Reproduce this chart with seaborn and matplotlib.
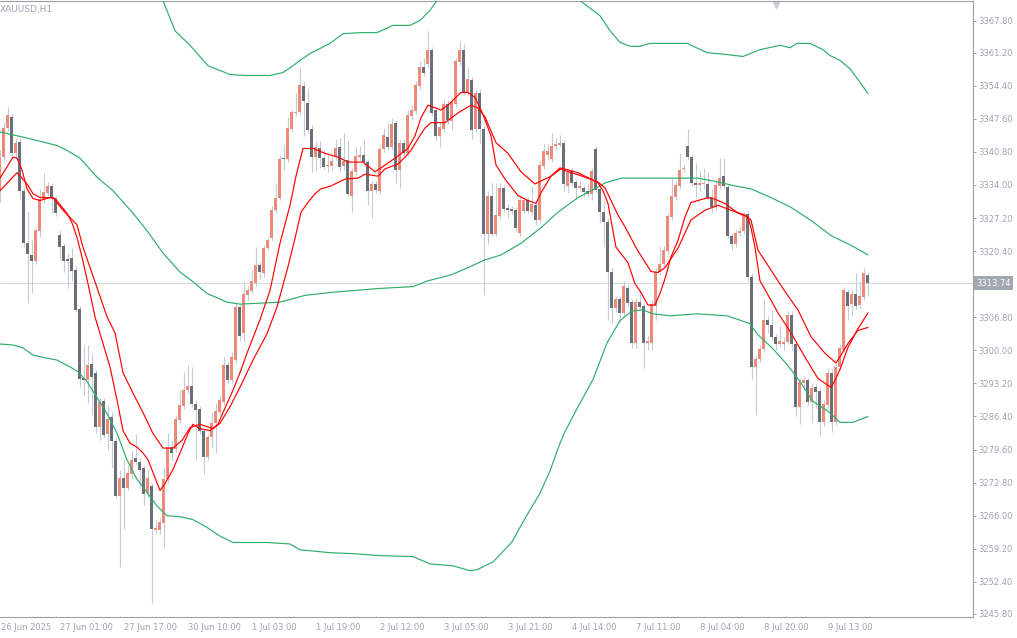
import matplotlib
matplotlib.use("Agg")
import matplotlib.pyplot as plt
import seaborn as sns

# XAUUSD H1 candles, 26 Jun 10:00 .. 9 Jul 23:00 (one bar per hour of trading)
opens = [
    3332.8, 3339.7, 3345.7, 3348.0, 3340.5, 3342.9, 3332.8, 3322.0, 3319.6, 3318.4,
    3324.6, 3331.0, 3332.4, 3333.8, 3331.2, 3323.8, 3321.4, 3318.8, 3319.0, 3316.6,
    3308.5, 3294.4, 3294.0, 3297.2, 3295.4, 3284.3, 3289.6, 3282.7, 3286.2, 3281.3,
    3270.0, 3273.8, 3271.8, 3274.5, 3277.9, 3277.1, 3275.9, 3270.6, 3272.2, 3263.1,
    3263.1, 3264.6, 3273.6, 3280.1, 3279.7, 3285.6, 3288.6, 3291.8, 3292.6, 3289.0,
    3288.0, 3283.5, 3278.1, 3282.1, 3285.0, 3287.4, 3289.4, 3297.0, 3293.8, 3298.0,
    3308.9, 3303.6, 3311.3, 3312.1, 3313.9, 3317.6, 3315.8, 3321.0, 3323.0, 3328.8,
    3331.4, 3339.5, 3339.3, 3345.5, 3348.8, 3349.0, 3354.4, 3350.8, 3345.5, 3339.7,
    3341.5, 3339.5, 3337.9, 3337.9, 3339.7, 3341.7, 3337.9, 3339.1, 3331.8, 3336.7,
    3339.7, 3340.1, 3338.7, 3332.8, 3334.2, 3332.8, 3341.3, 3343.9, 3341.7, 3346.8,
    3337.1, 3342.7, 3340.5, 3348.2, 3349.2, 3354.4, 3358.2, 3358.8, 3361.8, 3349.4,
    3344.1, 3345.5, 3350.6, 3347.2, 3350.6, 3359.2, 3361.8, 3353.0, 3355.6, 3345.5,
    3353.0, 3345.5, 3324.0, 3331.8, 3324.0, 3327.6, 3333.4, 3329.2, 3329.0, 3328.8,
    3324.2, 3328.6, 3330.8, 3328.4, 3329.8, 3326.8, 3337.9, 3340.1, 3339.3, 3342.1,
    3342.3, 3342.7, 3333.8, 3336.9, 3334.6, 3333.4, 3333.4, 3332.8, 3332.2, 3341.3,
    3333.2, 3328.4, 3326.4, 3316.2, 3308.7, 3310.5, 3307.7, 3312.9, 3309.9, 3301.6,
    3309.9, 3309.1, 3301.6, 3301.6, 3309.1, 3316.2, 3317.8, 3320.4, 3327.4, 3331.6,
    3333.8, 3337.3, 3341.9, 3339.7, 3334.4, 3334.0, 3334.2, 3334.2, 3331.4, 3329.4,
    3333.8, 3335.8, 3333.6, 3323.6, 3321.8, 3324.2, 3324.6, 3328.0, 3315.0, 3296.6,
    3298.2, 3300.2, 3306.3, 3305.3, 3302.8, 3301.2, 3301.4, 3301.8, 3307.3, 3301.4,
    3288.4, 3293.2, 3294.0, 3289.4, 3292.4, 3291.6, 3285.2, 3288.8, 3295.4, 3285.2,
    3296.6, 3300.0, 3311.9, 3309.5, 3311.5, 3309.3, 3310.9, 3315.4,
]
highs = [
    3341.1, 3347.0, 3350.0, 3348.8, 3343.7, 3343.7, 3333.6, 3328.4, 3322.6, 3325.2,
    3333.2, 3336.5, 3334.6, 3334.4, 3331.8, 3324.8, 3322.0, 3320.0, 3321.0, 3317.4,
    3309.1, 3301.0, 3301.0, 3299.4, 3296.0, 3290.2, 3290.2, 3288.8, 3287.4, 3281.9,
    3275.5, 3277.5, 3276.5, 3279.5, 3282.9, 3277.9, 3276.5, 3275.5, 3272.8, 3265.2,
    3265.6, 3276.1, 3283.1, 3281.5, 3286.8, 3291.8, 3295.6, 3297.0, 3296.6, 3289.8,
    3288.6, 3284.1, 3282.7, 3287.2, 3289.2, 3290.8, 3298.6, 3297.6, 3299.6, 3309.9,
    3309.5, 3314.3, 3313.3, 3316.6, 3321.2, 3318.2, 3321.6, 3323.2, 3329.6, 3334.4,
    3340.1, 3342.5, 3348.0, 3349.4, 3353.0, 3358.0, 3355.4, 3354.0, 3346.4, 3343.1,
    3343.1, 3341.1, 3340.1, 3340.1, 3343.5, 3343.7, 3344.7, 3343.1, 3337.5, 3341.9,
    3342.1, 3343.7, 3339.3, 3334.8, 3334.8, 3342.1, 3345.7, 3347.0, 3347.8, 3347.4,
    3343.5, 3343.5, 3349.4, 3350.4, 3355.4, 3359.4, 3360.0, 3365.6, 3362.4, 3350.0,
    3347.0, 3351.4, 3351.4, 3351.8, 3360.0, 3363.6, 3363.0, 3358.2, 3356.2, 3353.8,
    3353.8, 3346.4, 3332.8, 3334.4, 3334.4, 3334.4, 3334.0, 3330.0, 3329.6, 3329.4,
    3331.8, 3331.2, 3331.6, 3333.8, 3330.4, 3339.1, 3342.5, 3342.5, 3344.7, 3343.7,
    3344.3, 3343.3, 3337.1, 3337.5, 3335.2, 3334.8, 3334.0, 3334.2, 3337.5, 3341.9,
    3333.8, 3330.8, 3327.2, 3317.0, 3311.1, 3311.1, 3314.3, 3313.5, 3310.5, 3310.7,
    3312.3, 3309.7, 3303.0, 3310.3, 3317.0, 3321.4, 3321.4, 3328.2, 3335.4, 3334.8,
    3340.5, 3338.1, 3345.5, 3340.3, 3338.5, 3337.1, 3337.5, 3336.7, 3333.2, 3335.2,
    3339.5, 3339.5, 3334.2, 3324.2, 3325.0, 3325.4, 3328.4, 3328.6, 3315.8, 3299.0,
    3301.0, 3310.7, 3307.1, 3308.3, 3303.4, 3305.1, 3302.8, 3308.1, 3307.9, 3302.0,
    3294.2, 3294.8, 3294.6, 3293.0, 3293.2, 3292.2, 3289.8, 3296.4, 3296.2, 3297.2,
    3301.2, 3313.1, 3312.7, 3312.3, 3315.8, 3314.3, 3317.0, 3316.0,
]
lows = [
    3330.4, 3339.1, 3345.1, 3339.9, 3339.5, 3331.2, 3321.2, 3309.7, 3311.7, 3317.8,
    3323.2, 3330.2, 3331.8, 3328.2, 3327.6, 3318.6, 3316.2, 3312.9, 3314.3, 3307.9,
    3292.4, 3290.8, 3289.2, 3286.8, 3283.1, 3281.5, 3281.9, 3279.5, 3275.9, 3269.6,
    3255.5, 3263.3, 3271.2, 3273.6, 3276.5, 3271.8, 3268.2, 3269.8, 3248.1, 3262.5,
    3262.3, 3259.3, 3272.8, 3277.5, 3279.1, 3285.0, 3288.0, 3291.2, 3288.4, 3277.5,
    3282.9, 3274.5, 3277.5, 3279.9, 3278.9, 3286.8, 3288.8, 3293.2, 3293.2, 3297.4,
    3302.0, 3301.8, 3310.3, 3311.5, 3313.3, 3314.7, 3315.1, 3320.6, 3322.4, 3328.2,
    3330.8, 3337.1, 3338.7, 3345.1, 3348.2, 3348.6, 3344.1, 3344.7, 3336.7, 3337.1,
    3337.5, 3337.1, 3336.7, 3337.1, 3339.1, 3336.7, 3337.1, 3331.8, 3328.4, 3336.1,
    3339.1, 3338.1, 3329.8, 3327.2, 3332.4, 3332.2, 3340.7, 3341.1, 3341.1, 3334.4,
    3333.4, 3339.9, 3339.9, 3347.4, 3348.6, 3353.8, 3356.4, 3358.2, 3348.2, 3343.1,
    3341.7, 3344.9, 3346.6, 3345.3, 3350.0, 3358.6, 3352.4, 3352.4, 3343.5, 3344.9,
    3342.7, 3311.3, 3321.8, 3323.4, 3323.4, 3327.0, 3328.4, 3327.2, 3328.0, 3324.6,
    3323.6, 3328.0, 3328.0, 3327.8, 3325.8, 3326.2, 3337.3, 3339.1, 3338.7, 3341.1,
    3341.7, 3332.8, 3332.4, 3333.8, 3331.2, 3332.8, 3331.6, 3331.6, 3330.8, 3332.4,
    3326.2, 3321.4, 3306.3, 3305.7, 3307.9, 3305.9, 3307.1, 3309.1, 3300.4, 3300.4,
    3308.3, 3296.4, 3300.0, 3300.0, 3306.3, 3315.5, 3317.2, 3319.8, 3326.8, 3331.0,
    3333.2, 3336.7, 3339.1, 3333.8, 3331.4, 3332.8, 3333.2, 3330.8, 3328.2, 3328.8,
    3333.2, 3333.2, 3323.0, 3320.6, 3321.2, 3323.4, 3324.0, 3314.3, 3294.2, 3286.8,
    3297.6, 3299.6, 3303.6, 3302.2, 3300.0, 3300.6, 3300.0, 3301.2, 3300.0, 3286.4,
    3284.8, 3291.8, 3288.8, 3285.2, 3288.2, 3282.3, 3284.4, 3288.2, 3283.3, 3284.6,
    3296.0, 3299.6, 3306.3, 3307.1, 3308.5, 3308.7, 3310.3, 3311.1,
]
closes = [
    3339.5, 3345.7, 3348.4, 3340.5, 3342.7, 3332.8, 3322.0, 3319.8, 3318.4, 3324.8,
    3331.2, 3332.6, 3333.8, 3331.4, 3328.2, 3321.2, 3318.4, 3318.4, 3316.4, 3308.3,
    3294.2, 3294.0, 3297.0, 3294.6, 3284.3, 3289.4, 3282.5, 3285.8, 3281.3, 3270.0,
    3273.8, 3271.8, 3274.7, 3277.5, 3277.1, 3275.5, 3270.4, 3273.8, 3263.3, 3263.5,
    3264.8, 3273.6, 3280.1, 3278.9, 3285.8, 3288.8, 3291.8, 3292.6, 3289.0, 3287.8,
    3283.5, 3278.1, 3282.1, 3285.0, 3287.6, 3289.8, 3297.0, 3293.8, 3298.6, 3308.9,
    3303.0, 3311.5, 3312.3, 3314.3, 3317.6, 3316.0, 3321.0, 3322.6, 3328.8, 3331.4,
    3339.3, 3339.3, 3345.7, 3349.0, 3349.0, 3354.6, 3351.2, 3345.3, 3339.7, 3341.7,
    3339.5, 3337.7, 3338.1, 3338.9, 3341.5, 3337.7, 3338.9, 3332.2, 3336.9, 3339.9,
    3340.1, 3338.7, 3332.8, 3334.2, 3333.0, 3341.3, 3344.3, 3341.7, 3346.6, 3337.1,
    3342.7, 3340.5, 3348.4, 3349.4, 3354.6, 3358.2, 3357.0, 3361.8, 3348.8, 3344.1,
    3345.9, 3350.6, 3347.4, 3351.0, 3359.4, 3361.8, 3353.0, 3355.8, 3345.3, 3353.0,
    3345.5, 3324.0, 3331.8, 3324.0, 3327.8, 3333.4, 3329.0, 3328.8, 3328.6, 3325.2,
    3330.8, 3330.8, 3328.6, 3330.0, 3326.8, 3338.1, 3340.9, 3340.9, 3342.1, 3342.5,
    3342.7, 3334.2, 3336.7, 3334.4, 3333.4, 3333.8, 3332.6, 3332.2, 3336.9, 3333.0,
    3328.4, 3326.4, 3316.2, 3308.7, 3310.5, 3307.7, 3313.3, 3309.7, 3301.6, 3309.9,
    3308.9, 3301.6, 3301.8, 3309.5, 3316.2, 3317.8, 3320.6, 3327.6, 3331.8, 3334.0,
    3337.1, 3337.5, 3339.7, 3334.4, 3334.0, 3334.4, 3334.4, 3331.4, 3329.4, 3334.0,
    3335.4, 3333.8, 3323.6, 3321.8, 3324.2, 3324.6, 3327.8, 3315.0, 3296.6, 3298.2,
    3300.2, 3306.3, 3305.3, 3302.8, 3301.2, 3302.0, 3301.8, 3307.3, 3301.4, 3288.4,
    3293.4, 3294.0, 3289.4, 3292.2, 3291.4, 3285.2, 3289.0, 3295.4, 3285.2, 3296.6,
    3300.4, 3312.3, 3309.1, 3311.5, 3309.1, 3311.1, 3315.8, 3313.74,
]

# indicator lines (bar index, price)
fast_bar = [0, 3.25, 4.25, 5.5, 6.75, 8.25, 10, 12.5, 13.75, 16.75, 18, 19.25, 20.5, 22,
            23.75, 25.75, 27.5, 29.25, 30.75, 32.5, 34.25, 35.75, 37, 38.25, 40, 41.25,
            43.25, 45, 47, 48.25, 50, 52.5, 54.5, 55.75, 58.25, 60, 61.75, 65, 67.5, 70,
            72.5, 74, 75.75, 78.25, 81.25, 84.5, 87, 90.75, 93.75, 95.25, 98.75, 102,
            103.75, 105.25, 107, 110.25, 112, 115.25, 117, 118.75, 120.25, 121.25, 122.75,
            124, 126.25, 129.5, 132, 134, 135.25, 137.75, 140, 142, 144.5, 147.75, 149.5,
            150.75, 152, 152.75, 154, 157, 158.75, 160.25, 162, 163.75, 165, 166.25,
            167.75, 169.5, 171.25, 172.75, 176.25, 177.75, 181.25, 184.5, 187, 187.75,
            188.75, 190, 192.75, 194.5, 197.75, 201.25, 204.5, 207.75, 209, 210.25, 212,
            214.25, 217]
fast_val = [3335.4, 3339.7, 3339.5, 3337.1, 3333.2, 3331.2, 3330.8, 3331.4, 3331.2, 3328.2,
            3326.2, 3323.2, 3319.2, 3313.7, 3306.9, 3301.4, 3296.6, 3289.8, 3283.5, 3280.9,
            3280.1, 3278.9, 3277.5, 3274.9, 3271.2, 3272.6, 3275.5, 3278.9, 3282.9, 3284.8,
            3283.9, 3283.5, 3284.8, 3287.2, 3291.8, 3295.4, 3299.4, 3306.3, 3312.3, 3322.0,
            3329.8, 3335.8, 3341.5, 3341.5, 3340.5, 3339.7, 3338.7, 3338.7, 3336.7, 3337.5,
            3339.5, 3341.5, 3344.1, 3347.8, 3350.4, 3349.4, 3350.4, 3353.0, 3353.0, 3352.0,
            3349.4, 3347.4, 3344.1, 3338.1, 3335.2, 3331.8, 3330.8, 3330.2, 3332.4, 3335.8,
            3337.5, 3337.1, 3336.5, 3335.2, 3334.4, 3332.8, 3330.2, 3326.8, 3321.2, 3318.0,
            3313.7, 3311.9, 3309.3, 3309.3, 3311.7, 3314.7, 3319.2, 3322.6, 3327.4, 3330.4,
            3331.2, 3331.4, 3330.2, 3328.2, 3327.4, 3325.2, 3321.2, 3314.3, 3310.3, 3307.7,
            3303.6, 3298.6, 3294.2, 3292.4, 3294.2, 3296.6, 3300.6, 3304.1, 3307.7]

slow_bar = [0, 4.25, 5.5, 6.75, 8.25, 10, 13.25, 15.75, 19.25, 20.75, 24.25, 26.75, 28.75,
            30.75, 33.25, 35.75, 38.25, 40.75, 43.25, 45.5, 47.5, 50, 53.25, 55, 57.5, 60,
            63.25, 66.75, 69.25, 72, 73.75, 75.25, 77, 78.75, 80.25, 82.75, 86.25, 89.5,
            91.25, 94.5, 96.25, 99.5, 101.25, 102.75, 104.5, 106.25, 107.75, 111.25, 114.5,
            117.75, 119.5, 121.25, 124, 127, 130.25, 133.75, 135.25, 137.75, 140.25, 142.75,
            144.5, 149.5, 151.25, 152.75, 154.5, 156.25, 159.5, 162.75, 164.5, 166.25,
            169.5, 172.75, 176.25, 179.5, 182.75, 186.25, 187.75, 189.5, 192.75, 196.25,
            199.5, 202.75, 206.25, 209, 210.25, 212, 214.5, 217]
slow_val = [3332.8, 3336.5, 3335.4, 3334.2, 3332.2, 3331.4, 3331.4, 3328.8, 3325.8, 3321.2,
            3312.9, 3306.9, 3303.6, 3295.4, 3291.2, 3287.2, 3282.9, 3279.9, 3279.9, 3281.5,
            3284.1, 3284.8, 3283.9, 3285.0, 3288.4, 3292.4, 3298.0, 3303.4, 3308.9, 3317.2,
            3323.0, 3328.4, 3330.4, 3332.2, 3333.2, 3333.8, 3335.2, 3335.4, 3336.2, 3335.8,
            3337.3, 3338.3, 3339.7, 3341.1, 3343.5, 3345.7, 3346.8, 3346.8, 3348.8, 3350.4,
            3349.8, 3348.0, 3342.7, 3340.5, 3336.7, 3334.2, 3334.8, 3335.8, 3337.3, 3336.5,
            3336.1, 3334.6, 3333.4, 3330.8, 3327.8, 3325.4, 3320.4, 3316.2, 3316.0, 3317.0,
            3321.0, 3326.8, 3328.8, 3329.8, 3328.8, 3327.8, 3326.8, 3320.6, 3316.5, 3312.1,
            3308.3, 3302.8, 3299.4, 3297.4, 3299.0, 3301.4, 3304.1, 3304.7]

mid_bar = [0, 7.5, 14.25, 16.75, 20, 24.25, 28.25, 33.25, 36.75, 40.75, 45, 48.25, 51.75,
           56.75, 60, 65, 70, 76.25, 82.75, 94.5, 103.25, 107, 112.75, 117, 121.25, 125.25,
           130.25, 135.25, 139.5, 144.5, 147.75, 151.25, 155.25, 159.5, 169.5, 174.5,
           179.5, 183.75, 187.75, 192.75, 197.75, 202.75, 207.75, 212.75, 217]
mid_val = [3344.9, 3343.5, 3342.1, 3341.1, 3339.5, 3335.6, 3332.8, 3328.2, 3324.6, 3320.0,
           3316.1, 3314.1, 3311.7, 3309.9, 3309.5, 3309.7, 3309.9, 3311.3, 3311.9, 3312.7,
           3313.1, 3314.3, 3315.5, 3317.0, 3318.6, 3319.6, 3322.0, 3325.2, 3328.4, 3331.4,
           3332.8, 3334.4, 3335.4, 3335.4, 3335.4, 3335.4, 3334.6, 3333.8, 3333.2, 3331.4,
           3329.4, 3326.7, 3323.6, 3321.6, 3319.6]

upper_a_bar = [40.75, 43.75, 47.5, 52, 57.5, 61.25, 67.5, 70.75, 73.25, 75, 77.5, 82.5,
               85.75, 90, 94.25, 98.25, 102.5, 105, 107.5, 109.25]
upper_a_val = [3371.9, 3365.7, 3362.7, 3358.5, 3356.7, 3356.5, 3356.5, 3357.1, 3358.5,
               3359.6, 3361.0, 3363.1, 3365.1, 3365.3, 3365.3, 3366.8, 3366.8, 3367.8,
               3369.9, 3371.9]
upper_b_bar = [145, 150, 152.5, 155, 157.5, 160, 162.5, 165, 171.75, 176.75, 181.75, 185.75,
               190, 195, 197.5, 199.25, 202.5, 205.75, 207.5, 210, 212.5, 215, 217]
upper_b_val = [3371.9, 3368.8, 3365.7, 3363.3, 3362.5, 3362.5, 3363.1, 3363.1, 3363.1,
               3361.2, 3360.8, 3360.4, 3361.8, 3362.7, 3362.2, 3363.1, 3363.1, 3361.8,
               3360.6, 3359.6, 3357.9, 3355.1, 3352.8]

lower_bar = [0, 3.25, 5.75, 8.25, 11.75, 14.25, 17.5, 19.5, 21.75, 24.25, 26.75, 29.25,
             31.75, 34.25, 36.75, 39.25, 41.75, 45, 48.25, 51.75, 55, 58.25, 66.75, 72.5,
             75, 82.5, 88.25, 95, 103.25, 107.5, 113.25, 117.5, 119.25, 123.25, 125, 128,
             130, 132.5, 135, 137.5, 140, 141.25, 144.25, 148.25, 151.75, 155, 158, 160.75,
             163.25, 167.5, 174.25, 181.75, 187.5, 189.25, 193.25, 196.75, 200, 203.25,
             207, 210, 213.25, 217]
lower_val = [3301.3, 3301.1, 3300.5, 3299.0, 3298.4, 3298.0, 3296.6, 3295.6, 3293.6, 3290.3,
             3287.0, 3283.0, 3277.5, 3273.5, 3270.8, 3268.0, 3266.0, 3265.8, 3265.2, 3263.6,
             3261.8, 3260.5, 3260.5, 3260.2, 3259.0, 3258.4, 3258.2, 3257.8, 3257.6, 3256.1,
             3255.7, 3254.7, 3254.9, 3256.5, 3258.0, 3260.6, 3263.6, 3267.2, 3270.6, 3275.2,
             3280.9, 3283.3, 3288.0, 3294.0, 3301.5, 3306.1, 3308.1, 3308.3, 3307.5, 3307.1,
             3307.5, 3307.1, 3305.5, 3303.4, 3300.3, 3297.1, 3293.6, 3289.5, 3287.5, 3285.2,
             3285.2, 3286.4]

price_ticks = [3367.80, 3361.20, 3354.40, 3347.60, 3340.80, 3334.00, 3327.20, 3320.40,
               3313.60, 3306.80, 3300.00, 3293.20, 3286.40, 3279.60, 3272.80, 3266.00,
               3259.20, 3252.40, 3245.80]
price_labels = ["3367.80", "3361.20", "3354.40", "3347.60", "3340.80", "3334.00", "3327.20",
                "3320.40", "", "3306.80", "3300.00", "3293.20", "3286.40", "3279.60",
                "3272.80", "3266.00", "3259.20", "3252.40", "3245.80"]
time_bars = [15, 31, 47, 63, 79, 95, 111, 127, 143, 159, 175, 191, 207]
time_labels = ["27 Jun 01:00", "27 Jun 17:00", "30 Jun 10:00", "1 Jul 03:00", "1 Jul 19:00",
               "2 Jul 12:00", "3 Jul 05:00", "3 Jul 21:00", "4 Jul 14:00", "7 Jul 11:00",
               "8 Jul 04:00", "8 Jul 20:00", "9 Jul 13:00"]
first_label = "26 Jun 2025"
last_price = 3313.74

BULL = "#ef8a7b"
BEAR = "#6b6f78"
WICK = "#c6cbd8"
TXT = "#9ea4ae"
AXIS = "#a0a0a4"

sns.set_style("white")
plt.rcParams["font.family"] = ["DejaVu Sans"]

fig = plt.figure(figsize=(10.17, 6.38), dpi=100)
ax = fig.add_axes([0.0, 0.0329, 0.9567, 0.9663])

bars = list(range(len(opens)))
ax.axhline(last_price, color="#d6d9df", lw=0.8, zorder=0)
ax.vlines(bars, lows, highs, color=WICK, lw=0.8, zorder=1)
bottoms = [min(o, c) for o, c in zip(opens, closes)]
heights = [max(abs(c - o), 0.22) for o, c in zip(opens, closes)]
colors = [BULL if c >= o else BEAR for o, c in zip(opens, closes)]
ax.bar(bars, heights, bottom=bottoms, width=0.75, color=colors, linewidth=0, zorder=2)

green = "#2fae6a"
for bx, by in [(mid_bar, mid_val), (upper_a_bar, upper_a_val),
               (upper_b_bar, upper_b_val), (lower_bar, lower_val)]:
    sns.lineplot(x=bx, y=by, ax=ax, color=green, linewidth=0.85, zorder=3)
sns.lineplot(x=slow_bar, y=slow_val, ax=ax, color="#ff0000", linewidth=0.85, zorder=4)
sns.lineplot(x=fast_bar, y=fast_val, ax=ax, color="#ff0000", linewidth=0.85, zorder=4)

ax.set_xlim(0, 243.25)
ax.set_ylim(3245.18, 3371.91)

ax.yaxis.tick_right()
ax.set_yticks(price_ticks)
ax.set_yticklabels(price_labels)
ax.set_xticks(time_bars)
ax.set_xticklabels(time_labels, ha="left")
ax.tick_params(axis="y", direction="out", length=2.5, width=0.7, color=AXIS,
               labelcolor=TXT, labelsize=6, pad=1.5)
ax.tick_params(axis="x", direction="out", length=2.5, width=0.7, color=AXIS,
               labelcolor=TXT, labelsize=6, pad=1.5)
ax.set_xlabel("")
ax.set_ylabel("")

# first date label, kept fully inside the figure
ax.annotate(first_label, xy=(0, 0), xycoords="axes fraction",
            xytext=(0.5, -4.0), textcoords="offset points", ha="left", va="top",
            fontsize=6, color=TXT, annotation_clip=False)

for side in ["top", "right", "bottom"]:
    ax.spines[side].set_color(AXIS)
    ax.spines[side].set_linewidth(0.8)
ax.spines["left"].set_visible(False)

ax.annotate("XAUUSD,H1", xy=(0, 1), xycoords="axes fraction", xytext=(0, -3.5),
            textcoords="offset points", ha="left", va="top", fontsize=6.5, color=TXT)

ax.annotate(f"{last_price:.2f}", xy=(1, last_price), xycoords=("axes fraction", "data"),
            xytext=(2.2, 0), textcoords="offset points", ha="left", va="center",
            fontsize=6, color="white", annotation_clip=False,
            bbox=dict(boxstyle="square,pad=0.3", fc="#a3a7af", ec="none"))

ax.plot([0.7975], [0.993], marker="v", ms=5, color="#c8ccd4", transform=ax.transAxes,
        clip_on=False, linestyle="none")

fig.savefig("out.png", dpi=100)
plt.close(fig)
